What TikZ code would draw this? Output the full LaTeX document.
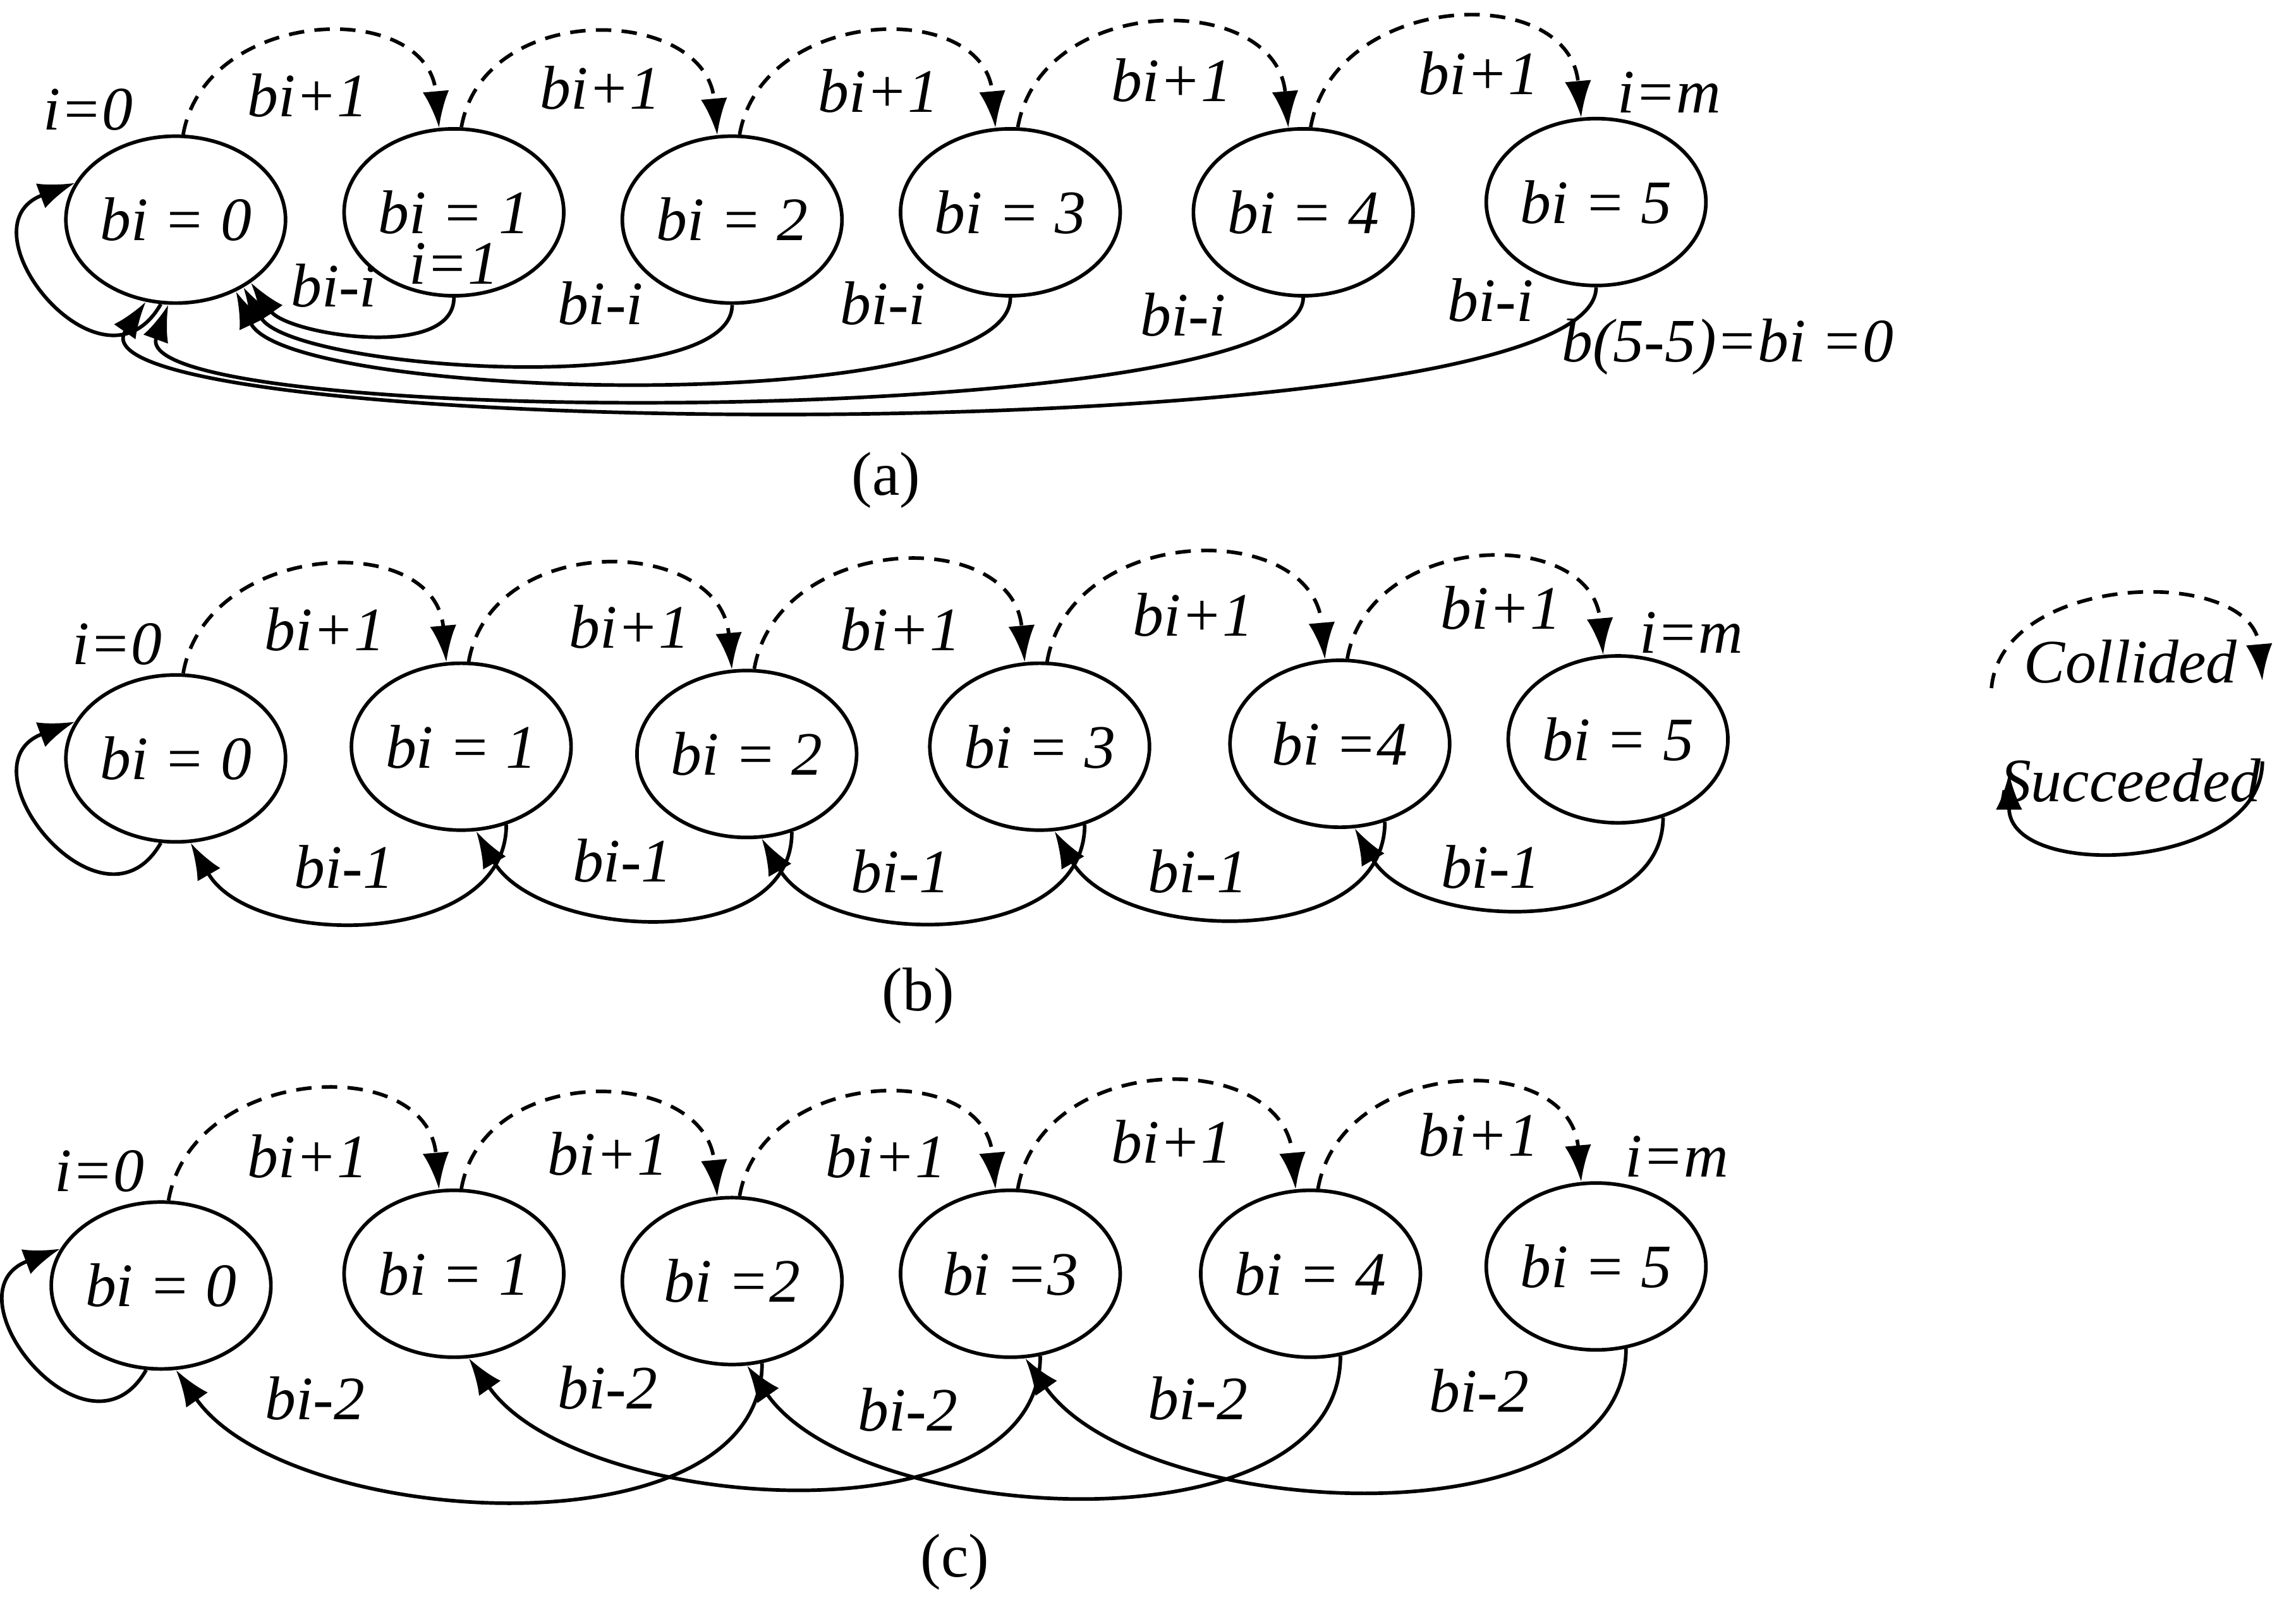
\documentclass[tikz,border=0pt]{standalone}
\usepackage{fontspec}
\setmainfont{Liberation Serif}
\usetikzlibrary{arrows.meta}
\usetikzlibrary{shapes.geometric}
\begin{document}
\begin{tikzpicture}[font=\fontsize{12}{14}\selectfont\itshape,line width=0.7pt,
  st/.style={draw,ellipse,minimum width=1.5cm,minimum height=1.14cm,inner sep=0pt},
  coll/.style={dashed,dash pattern=on 3pt off 2pt,-{Latex[length=2.5mm,width=1.8mm]}},
  succ/.style={-{Latex[length=2.5mm,width=1.8mm]}},
  lbl/.style={inner sep=1pt}]
\useasboundingbox (0,0) rectangle (15.68,-10.96);
% nodes
\foreach \n/\x/\y/\t in {0/1.20/1.50/{bi = 0},1/3.10/1.45/{bi = 1},2/5.00/1.50/{bi = 2},3/6.90/1.45/{bi = 3},4/8.90/1.45/{bi = 4},5/10.90/1.38/{bi = 5}}
  \node[st] (a\n) at (\x,-\y) {\t};
\foreach \n/\x/\y/\t in {0/1.20/5.18/{bi = 0},1/3.15/5.10/{bi = 1},2/5.10/5.15/{bi = 2},3/7.10/5.10/{bi = 3},4/9.15/5.08/{bi =4},5/11.05/5.05/{bi = 5}}
  \node[st] (b\n) at (\x,-\y) {\t};
\foreach \n/\x/\y/\t in {0/1.10/8.78/{bi = 0},1/3.10/8.70/{bi = 1},2/5.00/8.75/{bi =2},3/6.90/8.70/{bi =3},4/8.95/8.70/{bi = 4},5/10.90/8.65/{bi = 5}}
  \node[st] (c\n) at (\x,-\y) {\t};
% collided arcs
\foreach \r in {a,b,c}
  \foreach \i/\j in {0/1,1/2,2/3,3/4,4/5}
    \draw[coll] (\r\i.85) to[out=80,in=95,looseness=1.3] (\r\j.100);
% succeeded arcs (a)
\foreach \k/\a/\l in {1/-40/0.8,2/-45/0.5,3/-50/0.4,4/-95/0.3,5/-110/0.3}
  \draw[succ] (a\k.south) to[out=-90,in=\a-15,looseness=\l] (a0.\a);
% succeeded arcs (b)
\foreach \i/\j in {0/1,1/2,2/3,3/4,4/5}
  \draw[succ] (b\j.-60) to[out=-90,in=-60,looseness=1.0] (b\i.-80);
% succeeded arcs (c)
\foreach \i/\j in {0/2,1/3,2/4,3/5}
  \draw[succ] (c\j.-70) to[out=-90,in=-55,looseness=0.85] (c\i.-80);
% self loops
\foreach \r in {a,b,c}
  \draw[succ] (\r0.-100) .. controls +(-0.4,-0.7) and +(-0.8,-0.3) .. (\r0.160);
% labels (a)
\node at (0.60,-0.75) {i=0};
\node at (11.40,-0.63) {i=m};
\node[inner sep=0pt] at (3.10,-1.80) {i=1};
\foreach \x/\y in {2.10/0.65,4.10/0.60,6.00/0.62,8.00/0.55,10.10/0.50}
  \node[lbl] at (\x,-\y) {bi+1};
\foreach \x/\y in {2.28/1.95,4.10/2.07,6.03/2.07,8.08/2.15,10.18/2.05}
  \node[lbl] at (\x,-\y) {bi-i};
\node at (11.80,-2.37) {b(5-5)=bi =0};
\node[font=\fontsize{12}{14}\selectfont] at (6.05,-3.28) {(a)};
% labels (b)
\node at (0.80,-4.40) {i=0};
\node at (11.55,-4.32) {i=m};
\foreach \x/\y in {2.22/4.30,4.30/4.28,6.15/4.30,8.15/4.20,10.25/4.15}
  \node[lbl] at (\x,-\y) {bi+1};
\foreach \x/\y in {2.35/5.92,4.25/5.88,6.15/5.95,8.18/5.95,10.18/5.92}
  \node[lbl] at (\x,-\y) {bi-1};
\node[font=\fontsize{12}{14}\selectfont] at (6.27,-6.80) {(b)};
% labels (c)
\node at (0.68,-8.00) {i=0};
\node at (11.45,-7.90) {i=m};
\foreach \x/\y in {2.10/7.90,4.15/7.88,6.05/7.90,8.00/7.80,10.10/7.75}
  \node[lbl] at (\x,-\y) {bi+1};
\foreach \x/\y in {2.15/9.55,4.15/9.48,6.20/9.63,8.18/9.55,10.10/9.50}
  \node[lbl] at (\x,-\y) {bi-2};
\node[font=\fontsize{12}{14}\selectfont] at (6.52,-10.67) {(c)};
% legend
\coordinate (l1) at (13.60,-4.70);
\coordinate (l2) at (15.45,-4.65);
\coordinate (l3) at (15.45,-5.20);
\coordinate (l4) at (13.72,-5.28);
\draw[coll] (l1) to[out=85,in=95,looseness=1.1] (l2);
\draw[succ] (l3) to[out=-90,in=-90,looseness=1.1] (l4);
\node at (14.55,-4.52) {Collided};
\node at (14.55,-5.33) {Succeeded};
\end{tikzpicture}
\end{document}
